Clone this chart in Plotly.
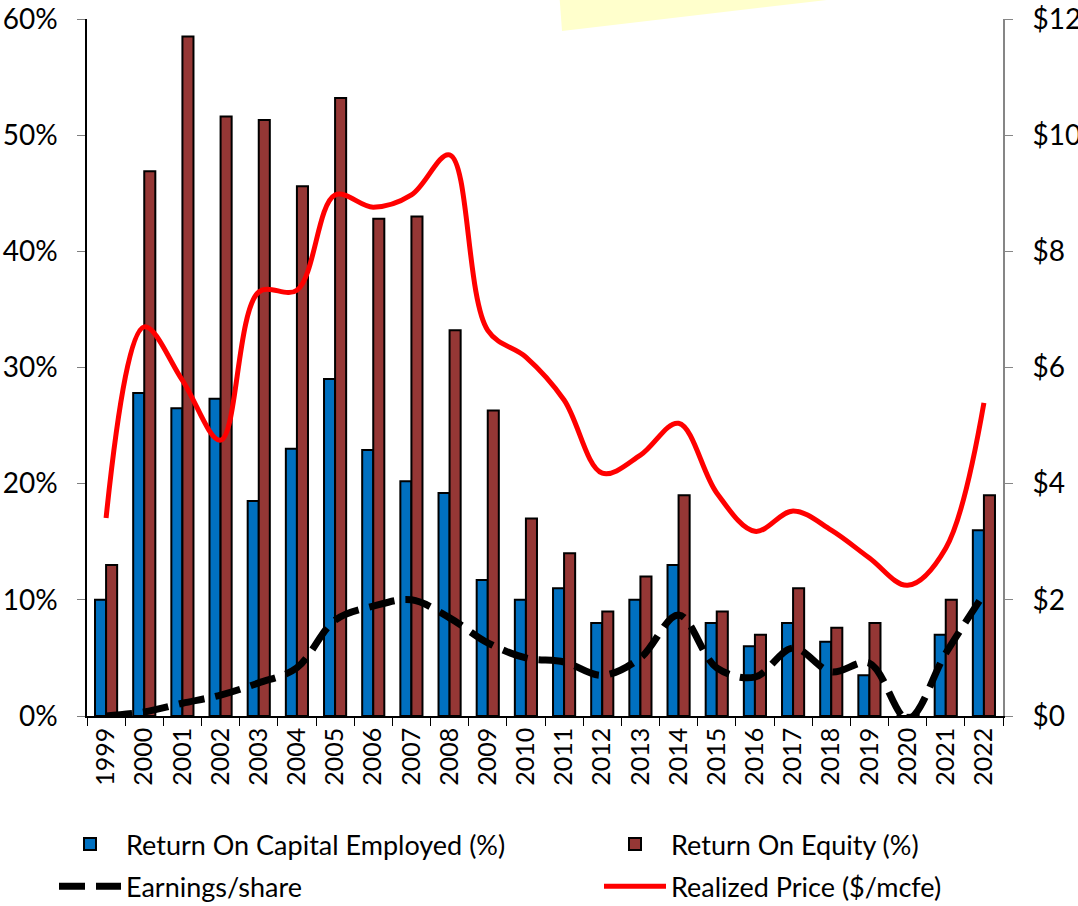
import plotly.graph_objects as go

years = [str(y) for y in range(1999, 2023)]
roce = [10, 27.8, 26.5, 27.3, 18.5, 23, 29, 22.9, 20.2, 19.2, 11.7, 10, 11, 8, 10, 13, 8, 6, 8, 6.4, 3.5, 0, 7, 16]
roe = [13, 46.9, 58.5, 51.6, 51.3, 45.6, 53.2, 42.8, 43, 33.2, 26.3, 17, 14, 9, 12, 19, 9, 7, 11, 7.6, 8, 0.1, 10, 19]
eps = [0, 0.07, 0.22, 0.36, 0.57, 0.83, 1.65, 1.89, 2.0, 1.69, 1.26, 1.0, 0.93, 0.7, 1.0, 1.74, 0.83, 0.67, 1.17, 0.76, 0.91, -0.05, 1.08, 2.1]
price = [3.41, 6.7, 5.78, 4.75, 7.3, 7.33, 8.97, 8.76, 8.97, 9.66, 6.64, 6.18, 5.44, 4.18, 4.49, 5.04, 3.84, 3.18, 3.53, 3.2, 2.72, 2.25, 2.89, 5.39]
left_ticks = [0, 10, 20, 30, 40, 50, 60]
right_ticks = [0, 2, 4, 6, 8, 10, 12]

FONT = "Lato"

fig = go.Figure()
fig.add_trace(go.Bar(x=years, y=roce, name="Return On Capital Employed (%)", legend="legend",
                     legendgroup="a", legendrank=1,
                     marker=dict(color="#0070C0", line=dict(color="black", width=2))))
fig.add_trace(go.Bar(x=years, y=roe, name="Return On Equity (%)", legend="legend2",
                     legendgroup="b", legendrank=1,
                     marker=dict(color="#953735", line=dict(color="black", width=2))))
fig.add_trace(go.Scatter(x=years, y=eps, name="Earnings/share", yaxis="y2", mode="lines",
                         legend="legend", legendgroup="c", legendrank=2,
                         line=dict(color="black", width=7, dash="26px,11px", shape="spline", smoothing=1)))
fig.add_trace(go.Scatter(x=years, y=price, name="Realized Price ($/mcfe)", yaxis="y2", mode="lines",
                         legend="legend2", legendgroup="d", legendrank=2,
                         line=dict(color="#FF0000", width=5, shape="spline", smoothing=1)))

leg_common = dict(orientation="v", yanchor="top", xanchor="left", font=dict(size=27, family=FONT),
                  itemwidth=62, tracegroupgap=4, bgcolor="rgba(0,0,0,0)")

fig.update_layout(
    width=1078, height=906,
    margin=dict(l=87, r=75, t=19, b=190, autoexpand=False),
    paper_bgcolor="white", plot_bgcolor="white",
    font=dict(family=FONT, size=24, color="black"),
    barmode="group", bargap=0.42, bargroupgap=0,
    showlegend=True,
    legend=dict(x=(54 - 87) / 916, y=-0.1492, **leg_common),
    legend2=dict(x=(599 - 87) / 916, y=-0.1492, **leg_common),
    xaxis=dict(type="category", showline=True, linecolor="black", linewidth=1.5,
               ticks="outside", ticklen=8, tickcolor="black", tickson="boundaries",
               tickangle=-90, tickfont=dict(size=25, family=FONT), showgrid=False,
               zeroline=False, automargin=False),
    yaxis=dict(range=[0, 60], tickvals=left_ticks, ticktext=[f"{v}%" for v in left_ticks],
               showline=True, linecolor="black", linewidth=1.5, ticks="outside", ticklen=8,
               tickcolor="#7f7f7f", showgrid=False, zeroline=False, automargin=False,
               tickfont=dict(size=28, family=FONT), ticklabelstandoff=14,
               ticklabeloverflow="allow"),
    yaxis2=dict(range=[0, 12], overlaying="y", side="right", tickvals=right_ticks,
                ticktext=[f"${v}" for v in right_ticks], showline=True, linecolor="#868686",
                linewidth=2, ticks="outside", ticklen=8, tickcolor="#868686", automargin=False,
                showgrid=False, zeroline=False, tickfont=dict(size=28, family=FONT),
                ticklabelstandoff=14, ticklabeloverflow="allow"),
    shapes=[dict(type="path", xref="paper", yref="paper", layer="below",
                 path="M 0.5142 1.06 L 0.5186 0.9828 L 0.8079 1.0273 L 0.85 1.06 Z",
                 fillcolor="#FFFFCC", line=dict(width=0))],
)

fig.write_html("out.html", config={"displayModeBar": False},
               post_script="document.body.style.margin='0px';document.body.style.padding='0px';")
